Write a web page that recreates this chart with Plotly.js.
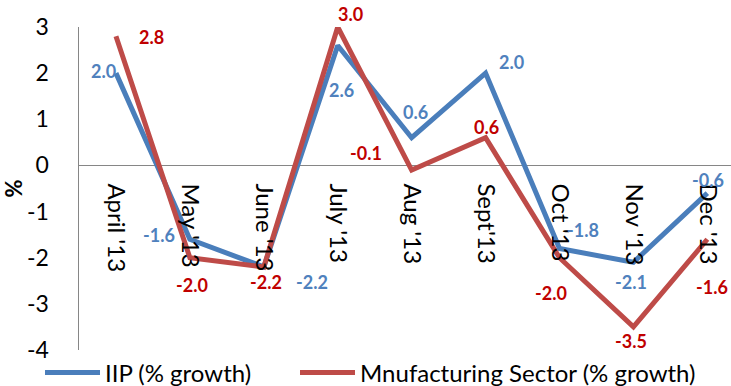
<!DOCTYPE html>
<html><head><meta charset="utf-8">
<script src="https://cdn.plot.ly/plotly-3.0.1.min.js"></script>
<style>html,body{margin:0;padding:0;background:#fff}</style>
</head><body><div id="chart" style="width:731px;height:386px"></div>
<script>
const months = ["April '13","May '13","June '13","July '13","Aug '13","Sept'13","Oct '13","Nov '13","Dec '13"];
const iip = [2.0,-1.6,-2.2,2.6,0.6,2.0,-1.8,-2.1,-0.6];
const mfg = [2.8,-2.0,-2.2,3.0,-0.1,0.6,-2.0,-3.5,-1.6];
const yTickVals = [-4,-3,-2,-1,0,1,2,3];
const yTickText = ["-4","-3","-2","-1","0","1","2","3"];
const seriesNames = ["IIP (% growth)","Mnufacturing Sector (% growth)"];

// label offsets in pixels (placement only)
const iipLabelDx = [-12,-31,48,4,4,26,23,-2,1];
const iipLabelDy = [2,4,-15,-45,26,11,18,-20,13];
const mfgLabelDx = [36,2,2,13,-46,1,-9,-2,5];
const mfgLabelDy = [-1,-27,-15,13,17,11,-35,-14,-48];

const FONT = "Lato, 'Liberation Sans', sans-serif";
const BLUE = "#4A7EBB", RED = "#BE4B48";
const BLUE_T = "#4F81BD", RED_T = "#C00000";

const traces = [
  {x: months, y: iip, type: 'scatter', mode: 'lines', name: seriesNames[0],
   line: {color: BLUE, width: 5}, legend: 'legend'},
  {x: months, y: mfg, type: 'scatter', mode: 'lines', name: seriesNames[1],
   line: {color: RED, width: 5}, legend: 'legend2'}
];

const annotations = [];
function addLabels(vals, dx, dy, color) {
  vals.forEach((v, i) => {
    annotations.push({x: months[i], y: v, xref: 'x', yref: 'y', text: v.toFixed(1),
      showarrow: false, xshift: dx[i], yshift: dy[i],
      font: {family: FONT, size: 18, color: color, weight: 'bold'}});
  });
}
addLabels(iip, iipLabelDx, iipLabelDy, BLUE_T);
addLabels(mfg, mfgLabelDx, mfgLabelDy, RED_T);

const legendCommon = {orientation: 'h', xanchor: 'left', yanchor: 'middle',
  xref: 'container', yref: 'container', itemwidth: 55,
  font: {family: FONT, size: 24, color: '#000'}, bgcolor: 'rgba(0,0,0,0)'};

const layout = {
  width: 731, height: 386,
  margin: {l: 79, r: 0, t: 27, b: 35.5, pad: 0, autoexpand: false},
  paper_bgcolor: '#fff', plot_bgcolor: '#fff',
  font: {family: FONT, size: 22, color: '#000'},
  showlegend: true,
  legend: Object.assign({}, legendCommon, {x: 40/731, y: 1 - 373/386}),
  legend2: Object.assign({}, legendCommon, {x: 295/731, y: 1 - 373/386}),
  xaxis: {type: 'category', range: [-0.5, 8.32], anchor: 'free', position: 4/7,
    showline: false, showgrid: false, zeroline: false, ticks: '', tickangle: 90,
    ticklabelstandoff: 17, tickfont: {family: FONT, size: 24, color: '#000'}},
  yaxis: {range: [-4, 3], tickvals: yTickVals, ticktext: yTickText,
    showline: true, linecolor: '#868686', linewidth: 1.5, showgrid: false,
    zeroline: true, zerolinecolor: '#868686', zerolinewidth: 1.5, ticks: '',
    ticklabelstandoff: 24, tickfont: {family: FONT, size: 23, color: '#000'},
    title: {text: '%', standoff: 10, font: {family: FONT, size: 22, color: '#000', weight: 'bold'}}},
  annotations: annotations
};
Plotly.newPlot('chart', traces, layout, {displayModeBar: false, staticPlot: true});
</script></body></html>
